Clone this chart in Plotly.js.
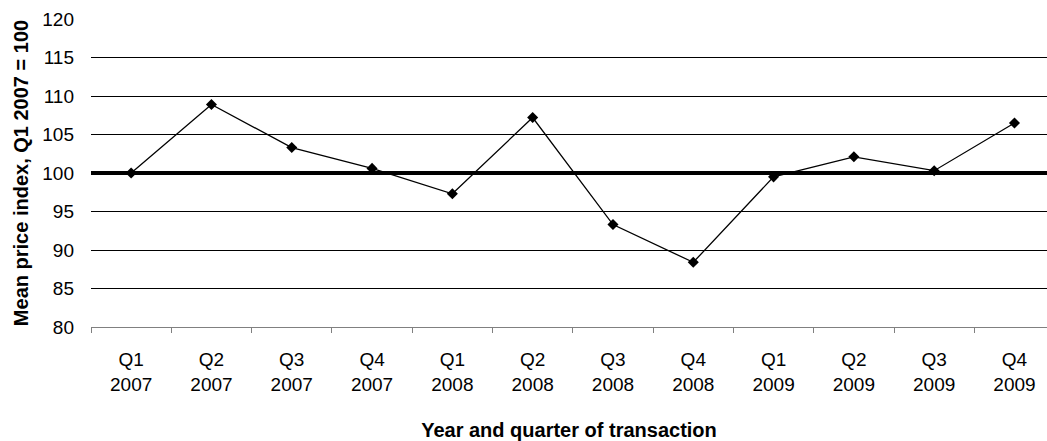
<!DOCTYPE html>
<html>
<head>
<meta charset="utf-8">
<script src="https://cdn.plot.ly/plotly-3.0.1.min.js"></script>
<style>html,body{margin:0;padding:0;background:#fff;}#chart{width:1047px;height:441px;}</style>
</head>
<body>
<div id="chart"></div>
<script>
var quarters = ["Q1", "Q2", "Q3", "Q4", "Q1", "Q2", "Q3", "Q4", "Q1", "Q2", "Q3", "Q4"];
var years = ["2007", "2007", "2007", "2007", "2008", "2008", "2008", "2008", "2009", "2009", "2009", "2009"];
var priceIndex = [100.0, 108.9, 103.3, 100.6, 97.3, 107.2, 93.3, 88.4, 99.5, 102.1, 100.3, 106.5];
var baseline = 100;
var yTicks = [80, 85, 90, 95, 100, 105, 110, 115, 120];

var categories = quarters.map(function (q, i) { return q + "<br>" + years[i]; });
var FONT = "Liberation Sans, Arial, Helvetica, sans-serif";

var trace = {
  type: "scatter",
  mode: "lines+markers",
  x: categories,
  y: priceIndex,
  line: {color: "#000", width: 1.3},
  marker: {symbol: "diamond", size: 8.5, color: "#000"},
  hoverinfo: "x+y",
  showlegend: false
};

var layout = {
  width: 1047,
  height: 441,
  margin: {l: 91, r: 0, t: 19, b: 114, pad: 0},
  paper_bgcolor: "#fff",
  plot_bgcolor: "#fff",
  font: {family: FONT, size: 19, color: "#000"},
  xaxis: {
    type: "category",
    range: [-0.5, 11.405],
    tickson: "boundaries",
    ticks: "outside",
    ticklen: 5,
    tickcolor: "#808080",
    tickwidth: 1,
    showgrid: false,
    showline: true,
    linecolor: "#808080",
    linewidth: 1,
    zeroline: false,
    tickfont: {family: FONT, size: 19, color: "#000"},
    ticklabelstandoff: 15,
    title: {text: "Year and quarter of transaction", font: {family: FONT, size: 20, color: "#000", weight: "bold"}, standoff: 31},
    automargin: false
  },
  yaxis: {
    range: [80, 120],
    tickvals: yTicks,
    ticktext: yTicks.map(String),
    showgrid: true,
    gridcolor: "#000",
    gridwidth: 1,
    zeroline: false,
    showline: false,
    ticks: "",
    ticklabelstandoff: 16,
    tickfont: {family: FONT, size: 19, color: "#000"},
    title: {text: "Mean price index, Q1 2007 = 100", font: {family: FONT, size: 20, color: "#000", weight: "bold"}, standoff: 8},
    automargin: false
  },
  shapes: [{
    type: "line",
    xref: "paper", yref: "y",
    x0: 0, x1: 1, y0: baseline, y1: baseline,
    line: {color: "#000", width: 4},
    layer: "below"
  }]
};

Plotly.newPlot("chart", [trace], layout, {displayModeBar: false, staticPlot: true});
</script>
</body>
</html>
